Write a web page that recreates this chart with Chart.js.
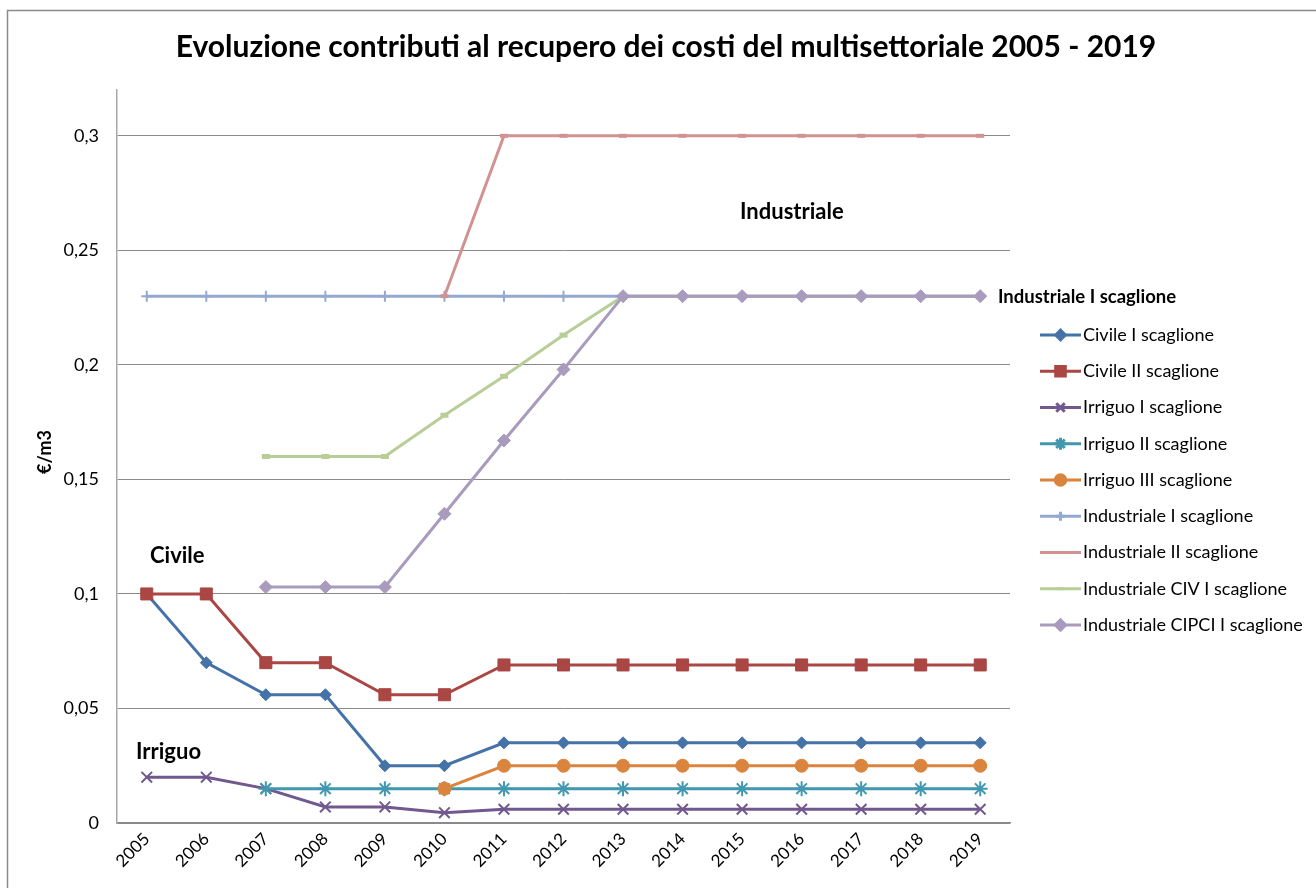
<!DOCTYPE html>
<html>
<head>
<meta charset="utf-8">
<script src="https://cdn.jsdelivr.net/npm/chart.js@4/dist/chart.umd.min.js"></script>
<style>
  html, body { margin: 0; padding: 0; background: #fff; }
  canvas { display: block; }
</style>
</head>
<body>
<canvas id="chart" width="1316" height="888"></canvas>
<script>
// categories
const years = ['2005', '2006', '2007', '2008', '2009', '2010', '2011', '2012',
  '2013', '2014', '2015', '2016', '2017', '2018', '2019'];

// series values (€/m3)
const civileI = [0.1, 0.07, 0.056, 0.056, 0.025, 0.025, 0.035, 0.035, 0.035, 0.035, 0.035, 0.035, 0.035, 0.035, 0.035];
const civileII = [0.1, 0.1, 0.07, 0.07, 0.056, 0.056, 0.069, 0.069, 0.069, 0.069, 0.069, 0.069, 0.069, 0.069, 0.069];
const irriguoI = [0.02, 0.02, 0.015, 0.007, 0.007, 0.0045, 0.006, 0.006, 0.006, 0.006, 0.006, 0.006, 0.006, 0.006, 0.006];
const irriguoII = [null, null, 0.015, 0.015, 0.015, 0.015, 0.015, 0.015, 0.015, 0.015, 0.015, 0.015, 0.015, 0.015, 0.015];
const irriguoIII = [null, null, null, null, null, 0.015, 0.025, 0.025, 0.025, 0.025, 0.025, 0.025, 0.025, 0.025, 0.025];
const industrialeI = [0.23, 0.23, 0.23, 0.23, 0.23, 0.23, 0.23, 0.23, 0.23, 0.23, 0.23, 0.23, 0.23, 0.23, 0.23];
const industrialeII = [null, null, null, null, null, 0.23, 0.3, 0.3, 0.3, 0.3, 0.3, 0.3, 0.3, 0.3, 0.3];
const industrialeCIV = [null, null, 0.16, 0.16, 0.16, 0.178, 0.195, 0.213, 0.23, 0.23, 0.23, 0.23, 0.23, 0.23, 0.23];
const industrialeCIPCI = [null, null, 0.103, 0.103, 0.103, 0.135, 0.167, 0.198, 0.23, 0.23, 0.23, 0.23, 0.23, 0.23, 0.23];

// series names
const seriesNames = ['Civile I scaglione', 'Civile II scaglione', 'Irriguo I scaglione',
  'Irriguo II scaglione', 'Irriguo III scaglione', 'Industriale I scaglione',
  'Industriale II scaglione', 'Industriale CIV I scaglione', 'Industriale CIPCI I scaglione'];

// y axis tick values
const yTicks = [0, 0.05, 0.1, 0.15, 0.2, 0.25, 0.3];

const FONT = 'Lato, "Open Sans", sans-serif';

//style for each series: colour, marker, marker size
const styles = [
  { color: '#4572A7', point: 'rectRot', r: 6, bw: 1 },
  { color: '#AA4643', point: 'rect', r: 8.5, bw: 1 },
  { color: '#71588F', point: 'crossRot', r: 7.5, bw: 2 },
  { color: '#4198AF', point: 'star', r: 7.5, bw: 2 },
  { color: '#DB843D', point: 'circle', r: 6.5, bw: 1 },
  { color: '#93A9CF', point: 'cross', r: 5.5, bw: 2 },
  { color: '#D19392', point: 'line', r: 4, bw: 4 },
  { color: '#B9CD96', point: 'line', r: 4, bw: 5 },
  { color: '#A99BBD', point: 'rectRot', r: 6.5, bw: 1 },
];

const allSeries = [civileI, civileII, irriguoI, irriguoII, irriguoIII,
  industrialeI, industrialeII, industrialeCIV, industrialeCIPCI];

const datasets = allSeries.map((values, i) => ({
  label: seriesNames[i],
  data: values,
  borderColor: styles[i].color,
  backgroundColor: styles[i].color,
  borderWidth: 3,
  tension: 0,
  pointStyle: styles[i].point,
  pointRadius: styles[i].r,
  pointBorderWidth: styles[i].bw,
  pointBackgroundColor: styles[i].color,
  pointBorderColor: styles[i].color,
  order: allSeries.length - i, // later series on top, as in the original
}));

const fmt = (v) => String(Number(v.toFixed(3))).replace('.', ',');

//outer frame of the chart (cut off on the right and bottom)
const framePlugin = {
  id: 'frame',
  beforeDraw(chart) {
    const ctx = chart.ctx;
    ctx.save();
    ctx.strokeStyle = '#8a8a8a';
    ctx.lineWidth = 1.5;
    ctx.strokeRect(7.5, 10.5, 1400, 1000);
    ctx.restore();
  }
};

//text labels placed on the plot, plus the y axis name
const notesPlugin = {
  id: 'notes',
  afterDraw(chart) {
    const ctx = chart.ctx;
    const y = chart.scales.y;
    ctx.save();
    ctx.fillStyle = '#000';
    ctx.textBaseline = 'middle';
    ctx.textAlign = 'left';
    ctx.font = 'bold 22px ' + FONT;
    ctx.fillText('Industriale', 740, 212);
    ctx.fillText('Civile', 150, 556);
    ctx.fillText('Irriguo', 136, 752);
    ctx.font = 'bold 18.5px ' + FONT;
    ctx.fillText('Industriale I scaglione', 998, y.getPixelForValue(0.23) + 1);
    // axis name
    ctx.translate(45, 452);
    ctx.rotate(-Math.PI / 2);
    ctx.textAlign = 'center';
    ctx.font = 'bold 18px ' + FONT;
    ctx.fillText('€/m3', 0, 0);
    ctx.restore();
  }
};

//legend: line with marker, then the name
const legendPlugin = {
  id: 'sideLegend',
  afterDraw(chart) {
    const ctx = chart.ctx;
    ctx.save();
    chart.data.datasets.forEach((ds, i) => {
      const cy = 335 + i * 36.25;
      ctx.strokeStyle = ds.borderColor;
      ctx.fillStyle = ds.borderColor;
      ctx.lineWidth = 3;
      ctx.beginPath();
      ctx.moveTo(1040, cy);
      ctx.lineTo(1081, cy);
      ctx.stroke();
      Chart.helpers.drawPoint(ctx, {
        pointStyle: ds.pointStyle,
        radius: ds.pointRadius * 0.8,
        borderWidth: ds.pointBorderWidth,
        rotation: 0
      }, 1060.5, cy);
      ctx.fillStyle = '#000';
      ctx.font = '18px ' + FONT;
      ctx.textAlign = 'left';
      ctx.textBaseline = 'middle';
      ctx.fillText(ds.label, 1083, cy);
    });
    ctx.restore();
  }
};

let myChart = new Chart(document.getElementById('chart'), {
  type: 'line',
  data: { labels: years, datasets: datasets },
  plugins: [framePlugin, notesPlugin, legendPlugin],
  options: {
    responsive: false,
    animation: false,
    devicePixelRatio: 1,
    layout: { padding: { left: 16, right: 0, top: 0, bottom: 0 } },
    plugins: {
      legend: { display: false },
      tooltip: { enabled: false },
      title: {
        display: true,
        text: 'Evoluzione contributi al recupero dei costi del multisettoriale 2005 - 2019',
        color: '#000',
        font: { family: FONT, size: 30, weight: 'bold' },
        padding: { top: 29, bottom: 25 }
      }
    },
    scales: {
      x: {
        offset: true,
        grid: { display: false, drawTicks: false },
        border: { display: true, color: '#8a8a8a', width: 1.5 },
        ticks: {
          color: '#000',
          font: { family: FONT, size: 17 },
          minRotation: 45,
          maxRotation: 45,
          autoSkip: false,
          padding: 6
        },
        afterFit: (s) => { s.height = 65; }
      },
      y: {
        min: 0,
        max: 0.32,
        grid: { color: '#8a8a8a', lineWidth: 1, drawTicks: false },
        border: { display: true, color: '#a8a8a8', width: 1.5 },
        ticks: {
          stepSize: 0.05,
          color: '#000',
          font: { family: FONT, size: 18 },
          padding: 18,
          callback: (v) => fmt(v)
        },
        afterBuildTicks: (s) => {
          s.ticks = yTicks.map((v) => ({ value: v }));
        },
        afterFit: (s) => { s.width = 101; }
      },
      yR: {
        type: 'linear',
        position: 'right',
        display: true,
        grid: { display: false, drawTicks: false },
        border: { display: false },
        ticks: { display: false },
        afterFit: (s) => { s.width = 306; }
      }
    }
  }
});
</script>
</body>
</html>
